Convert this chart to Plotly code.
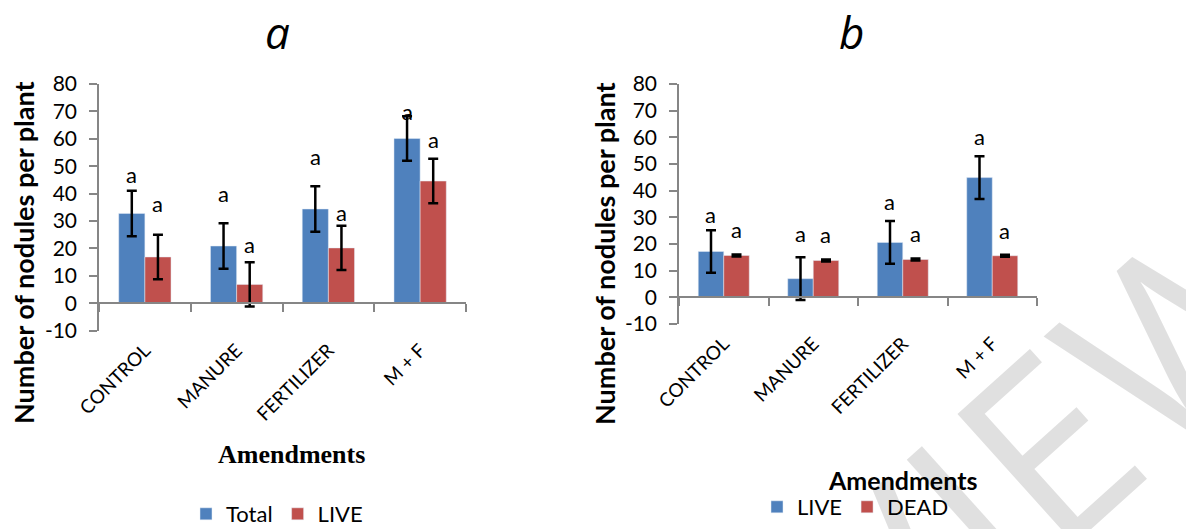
import plotly.graph_objects as go

# ---------------- data ----------------
categories = ["CONTROL", "MANURE", "FERTILIZER", "M + F"]

# panel a
a_total = [32.8, 20.9, 34.4, 60.1]
a_total_err = [8.3, 8.3, 8.3, 8.1]
a_live = [16.9, 6.9, 20.2, 44.6]
a_live_err = [8.1, 8.1, 8.1, 8.1]
a_total_letters = ["a", "a", "a", "a"]
a_live_letters = ["a", "a", "a", "a"]
a_total_letter_y = [47.1, 40.0, 53.4, 69.8]
a_live_letter_y = [36.4, 21.4, 33.3, 59.7]

# panel b
b_live = [17.2, 7.0, 20.6, 44.9]
b_live_err = [8.0, 8.0, 8.0, 8.0]
b_dead = [15.7, 13.8, 14.2, 15.6]
b_dead_err = [0.4, 0.4, 0.4, 0.4]
b_live_letters = ["a", "a", "a", "a"]
b_dead_letters = ["a", "a", "a", "a"]
b_live_letter_y = [31.1, 23.8, 35.9, 60.4]
b_dead_letter_y = [25.5, 23.6, 24.1, 25.0]

y_min, y_max, y_step = -10, 80, 10
y_tick_vals = list(range(y_min, y_max + 1, y_step))
y_tick_text = [str(v) for v in y_tick_vals]

# ---------------- style ----------------
W, H = 1186, 529
BLUE = "#4F81BD"
RED = "#C0504D"
AXIS = "#868686"
SANS = "Lato"
BARGAP = 0.43


def px_x(p):
    return p / W


def px_y(p):
    return 1 - p / H


# pixel layout of the two plot areas
left_dom_x = [px_x(99), px_x(466)]
left_dom_y = [px_y(330.7), px_y(84)]
right_dom_x = [px_x(679), px_x(1037)]
right_dom_y = [px_y(324), px_y(84)]

fig = go.Figure()

# watermark: an invisible shape below everything, carrying a rotated label
wm_cx, wm_cy = 898, 598
fig.add_shape(
    type="rect", xref="paper", yref="paper", layer="below",
    x0=px_x(wm_cx - 5), x1=px_x(wm_cx + 5), y0=px_y(wm_cy + 5), y1=px_y(wm_cy - 5),
    line=dict(width=0), fillcolor="rgba(0,0,0,0)",
    label=dict(text="PREVIEW", textangle=-42, textposition="middle center",
               font=dict(family="Open Sans", size=245, color="#e0e0e0")),
)


def err(vals):
    return dict(type="data", array=vals, visible=True, color="black",
                thickness=2.5, width=5)


fig.add_trace(go.Bar(x=categories, y=a_total, name="Total", marker_color=BLUE,
                     error_y=err(a_total_err), xaxis="x", yaxis="y",
                     legend="legend"))
fig.add_trace(go.Bar(x=categories, y=a_live, name="LIVE", marker_color=RED,
                     error_y=err(a_live_err), xaxis="x", yaxis="y",
                     legend="legend"))
fig.add_trace(go.Bar(x=categories, y=b_live, name="LIVE", marker_color=BLUE,
                     error_y=err(b_live_err), xaxis="x2", yaxis="y2",
                     legend="legend2"))
fig.add_trace(go.Bar(x=categories, y=b_dead, name="DEAD", marker_color=RED,
                     error_y=err(b_dead_err), xaxis="x2", yaxis="y2",
                     legend="legend2"))

# dummy traces for the zero-crossing x axes
n = len(categories)
fig.add_trace(go.Scatter(x=[0], y=[None], xaxis="x3", yaxis="y", showlegend=False,
                         hoverinfo="skip"))
fig.add_trace(go.Scatter(x=[0], y=[None], xaxis="x4", yaxis="y2", showlegend=False,
                         hoverinfo="skip"))

cat_axis = dict(type="category", categoryorder="array", categoryarray=categories,
                range=[-0.5, n - 0.5], showline=False, ticks="", showgrid=False,
                zeroline=False, tickangle=-45, automargin=False,
                tickfont=dict(family=SANS, size=19, color="black"),
                ticklabelstandoff=4)

boundary_vals = [i - 0.5 for i in range(n + 1)]


def zero_axis(overlay, ydom):
    pos = ydom[0] + (0 - y_min) / (y_max - y_min) * (ydom[1] - ydom[0])
    return dict(overlaying=overlay, anchor="free", position=pos, type="linear",
                range=[-0.5, n - 0.5], showline=True, linecolor=AXIS, linewidth=1.5,
                ticks="outside", tickvals=boundary_vals, ticklen=8, tickwidth=1.5,
                tickcolor=AXIS, showticklabels=False, showgrid=False, zeroline=False,
                automargin=False)


val_axis = dict(range=[y_min, y_max], tickvals=y_tick_vals, ticktext=y_tick_text,
                showline=True, automargin=False,
                linecolor=AXIS, linewidth=1.5, ticks="outside", ticklen=8,
                tickwidth=1.5, tickcolor=AXIS, showgrid=False, zeroline=False,
                tickfont=dict(family=SANS, size=21, color="black"),
                ticklabelstandoff=8)

fig.update_layout(
    width=W, height=H, margin=dict(l=0, r=0, t=0, b=0, autoexpand=False),
    paper_bgcolor="white", plot_bgcolor="rgba(0,0,0,0)",
    barmode="group", bargap=BARGAP, bargroupgap=0,
    xaxis=dict(cat_axis, domain=left_dom_x, anchor="y"),
    xaxis2=dict(cat_axis, domain=right_dom_x, anchor="y2"),
    xaxis3=dict(zero_axis("x", left_dom_y), domain=left_dom_x),
    xaxis4=dict(zero_axis("x2", right_dom_y), domain=right_dom_x),
    yaxis=dict(val_axis, domain=left_dom_y, anchor="x"),
    yaxis2=dict(val_axis, domain=right_dom_y, anchor="x2"),
    legend=dict(orientation="h", x=px_x(186), y=px_y(514), xanchor="left",
                yanchor="middle", font=dict(family=SANS, size=22, color="black"),
                bgcolor="rgba(0,0,0,0)"),
    legend2=dict(orientation="h", x=px_x(757), y=px_y(507), xanchor="left",
                 yanchor="middle", font=dict(family=SANS, size=22, color="black"),
                 bgcolor="rgba(0,0,0,0)"),
    showlegend=True,
)

# significance letters
off = (1 - BARGAP) / 4
for xr, yr, letters, ys, dx in [
    ("x", "y", a_total_letters, a_total_letter_y, -off),
    ("x", "y", a_live_letters, a_live_letter_y, off),
    ("x2", "y2", b_live_letters, b_live_letter_y, -off),
    ("x2", "y2", b_dead_letters, b_dead_letter_y, off),
]:
    for i, (t, yv) in enumerate(zip(letters, ys)):
        fig.add_annotation(x=i + dx, y=yv, xref=xr, yref=yr, text=t,
                           showarrow=False, xanchor="center", yanchor="middle",
                           font=dict(family=SANS, size=22, color="black"))

# panel titles
for label, xc in (("a", 277), ("b", 851)):
    fig.add_annotation(text=f"<i>{label}</i>", xref="paper", yref="paper",
                       x=px_x(xc), y=px_y(0), showarrow=False,
                       xanchor="center", yanchor="top",
                       font=dict(family="Open Sans", size=44, color="black"))

# y-axis titles
for xc in (23, 604):
    fig.add_annotation(text="<b>Number of nodules per plant</b>", xref="paper",
                       yref="paper", x=px_x(xc), y=px_y(253), showarrow=False,
                       textangle=-90, xanchor="center", yanchor="middle",
                       font=dict(family=SANS, size=27, color="black"))

# x-axis titles
fig.add_annotation(text="<b>Amendments</b>", xref="paper", yref="paper",
                   x=px_x(291), y=px_y(454), showarrow=False,
                   xanchor="center", yanchor="middle",
                   font=dict(family="Liberation Serif", size=26, color="black"))
fig.add_annotation(text="<b>Amendments</b>", xref="paper", yref="paper",
                   x=px_x(902), y=px_y(480), showarrow=False,
                   xanchor="center", yanchor="middle",
                   font=dict(family=SANS, size=25, color="black"))

fig.write_html("out.html", config={"displayModeBar": False},
               post_script="document.body.style.margin='0px';")
